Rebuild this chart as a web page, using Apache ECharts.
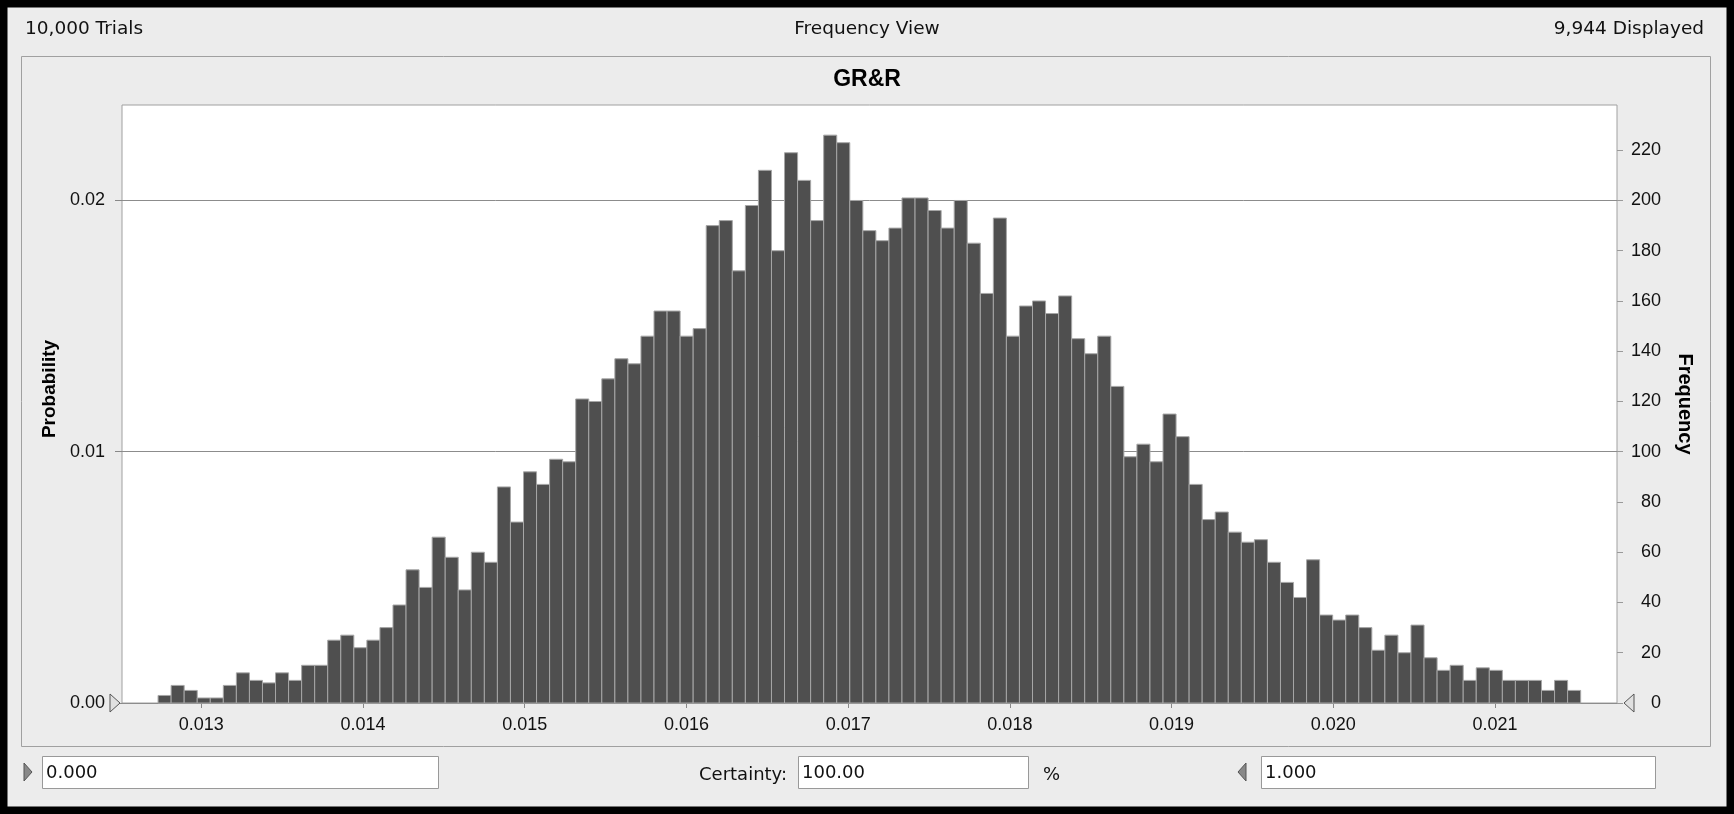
<!DOCTYPE html>
<html>
<head>
<meta charset="utf-8">
<script src="https://cdn.jsdelivr.net/npm/echarts@6/dist/echarts.min.js"></script>
<style>
  html, body { margin: 0; padding: 0; background: #000; }
  #main { width: 1734px; height: 814px; }
</style>
</head>
<body>
<div id="main"></div>
<script>
var myChart = echarts.init(document.getElementById('main'));

// histogram of 10,000 trials (frequency per bin)
var binStart = 0.012733;
var binWidth = 0.0000807;
var freq = [3, 7, 5, 2, 2, 7, 12, 9, 8, 12,
            9, 15, 15, 25, 27, 22, 25, 30, 39, 53,
            46, 66, 58, 45, 60, 56, 86, 72, 92, 87,
            97, 96, 121, 120, 129, 137, 135, 146, 156, 156,
            146, 149, 190, 192, 172, 198, 212, 180, 219, 208,
            192, 226, 223, 200, 188, 184, 189, 201, 201, 196,
            189, 200, 183, 163, 193, 146, 158, 160, 155, 162,
            145, 139, 146, 126, 98, 103, 96, 115, 106, 87,
            73, 76, 68, 64, 65, 56, 48, 42, 57, 35,
            33, 35, 30, 21, 27, 20, 31, 18, 13, 15,
            9, 14, 13, 9, 9, 9, 5, 9, 5];

var xTicks = [0.013, 0.014, 0.015, 0.016, 0.017, 0.018, 0.019, 0.020, 0.021];
var probTicks = [0, 0.01, 0.02];
var freqTicks = [0, 20, 40, 60, 80, 100, 120, 140, 160, 180, 200, 220];

var bins = freq.map(function (f, i) {
    return [binStart + i * binWidth, binStart + (i + 1) * binWidth, f];
});

var font = 'Liberation Sans';
var uiFont = 'DejaVu Sans';
var txt = {fontFamily: uiFont, fontSize: 18.5, fontWeight: 'normal', color: '#111'};

option = {
    backgroundColor: '#ececec',
    animation: false,
    title: [
        {text: '10,000 Trials', left: 25, top: 20, padding: 0, textStyle: txt},
        {text: 'Frequency View', left: 'center', top: 20, padding: 0, textStyle: txt},
        {text: '9,944 Displayed', right: 30, top: 20, padding: 0, textStyle: txt},
        {text: 'GR&R', left: 'center', top: 68, padding: 0,
            textStyle: {fontFamily: font, fontSize: 23, fontWeight: 'bold', color: '#000'}}
    ],
    grid: {
        left: 122, right: 117, top: 105, bottom: 111,
        show: true, backgroundColor: '#fff', borderColor: '#a0a0a0', borderWidth: 1
    },
    xAxis: {
        type: 'value',
        min: 0.01251,
        max: 0.021754,
        axisLine: {show: false},
        splitLine: {show: false},
        axisTick: {customValues: xTicks, length: 5, lineStyle: {color: '#888'}},
        axisLabel: {
            customValues: xTicks, margin: 13,
            fontFamily: font, fontSize: 18, color: '#111',
            formatter: function (v) { return v.toFixed(3); }
        }
    },
    yAxis: [
        {
            type: 'value',
            min: 0,
            max: 0.0238,
            name: 'Probability',
            nameLocation: 'middle',
            nameGap: 62,
            nameTextStyle: {fontFamily: font, fontSize: 19, fontWeight: 'bold', color: '#000',
                padding: [0, 0, 0, 30]},
            axisLine: {show: false},
            axisTick: {customValues: probTicks, length: 7, lineStyle: {color: '#888'}},
            axisLabel: {
                customValues: probTicks, margin: 17,
                fontFamily: font, fontSize: 18, color: '#111',
                formatter: function (v) { return v.toFixed(2); }
            },
            splitLine: {lineStyle: {color: '#8c8c8c', width: 1}}
        },
        {
            type: 'value',
            position: 'right',
            min: 0,
            max: 238,
            name: 'Frequency',
            nameLocation: 'middle',
            nameGap: 58,
            nameRotate: -90,
            nameTextStyle: {fontFamily: font, fontSize: 20, fontWeight: 'bold', color: '#000'},
            axisLine: {show: false},
            axisTick: {customValues: freqTicks, length: 6, lineStyle: {color: '#999'}},
            axisLabel: {
                customValues: freqTicks, margin: 44, align: 'right',
                fontFamily: font, fontSize: 18, color: '#111'
            },
            splitLine: {show: false}
        }
    ],
    series: [
        {
            name: 'GR&R',
            type: 'custom',
            xAxisIndex: 0,
            yAxisIndex: 1,
            data: bins,
            encode: {x: [0, 1], y: 2},
            renderItem: function (params, api) {
                var p0 = api.coord([api.value(0), api.value(2)]);
                var p1 = api.coord([api.value(1), 0]);
                return {
                    type: 'rect',
                    shape: {x: p0[0], y: p0[1], width: p1[0] - p0[0], height: p1[1] - p0[1]},
                    style: {fill: '#4f4f4f', stroke: '#a6a6a6', lineWidth: 1}
                };
            }
        }
    ],
    graphic: [
        // outer black frame
        {type: 'rect', shape: {x: 3.5, y: 3.5, width: 1727, height: 807},
            style: {fill: null, stroke: '#000', lineWidth: 8}},
        // inner panel
        {type: 'rect', shape: {x: 21.5, y: 56.5, width: 1689, height: 690},
            style: {fill: null, stroke: '#a0a0a0', lineWidth: 1}, z: -1},
        // grabbers at the baseline
        {type: 'polygon', shape: {points: [[110, 694], [120, 703], [110, 712]]},
            style: {fill: '#e0e0e0', stroke: '#555', lineWidth: 1}, z: 10},
        {type: 'polygon', shape: {points: [[1634, 694], [1624, 703], [1634, 712]]},
            style: {fill: '#e0e0e0', stroke: '#555', lineWidth: 1}, z: 10},
        // bottom controls
        {type: 'polygon', shape: {points: [[24, 763], [32, 772], [24, 781]]},
            style: {fill: '#888', stroke: '#555', lineWidth: 1}},
        {type: 'rect', shape: {x: 42.5, y: 756.5, width: 396, height: 32},
            style: {fill: '#fff', stroke: '#999', lineWidth: 1}},
        {type: 'text', x: 46, y: 773, style: {text: '0.000', fontFamily: uiFont, fontSize: 18, fill: '#111', verticalAlign: 'middle'}},
        {type: 'text', x: 787, y: 775, style: {text: 'Certainty:', fontFamily: uiFont, fontSize: 18, fill: '#111', align: 'right', verticalAlign: 'middle'}},
        {type: 'rect', shape: {x: 798.5, y: 756.5, width: 230, height: 32},
            style: {fill: '#fff', stroke: '#999', lineWidth: 1}},
        {type: 'text', x: 802, y: 773, style: {text: '100.00', fontFamily: uiFont, fontSize: 18, fill: '#111', verticalAlign: 'middle'}},
        {type: 'text', x: 1043, y: 775, style: {text: '%', fontFamily: uiFont, fontSize: 18, fill: '#111', verticalAlign: 'middle'}},
        {type: 'polygon', shape: {points: [[1246, 763], [1238, 772], [1246, 781]]},
            style: {fill: '#888', stroke: '#555', lineWidth: 1}},
        {type: 'rect', shape: {x: 1261.5, y: 756.5, width: 394, height: 32},
            style: {fill: '#fff', stroke: '#999', lineWidth: 1}},
        {type: 'text', x: 1265, y: 773, style: {text: '1.000', fontFamily: uiFont, fontSize: 18, fill: '#111', verticalAlign: 'middle'}}
    ]
};
myChart.setOption(option);
</script>
</body>
</html>
